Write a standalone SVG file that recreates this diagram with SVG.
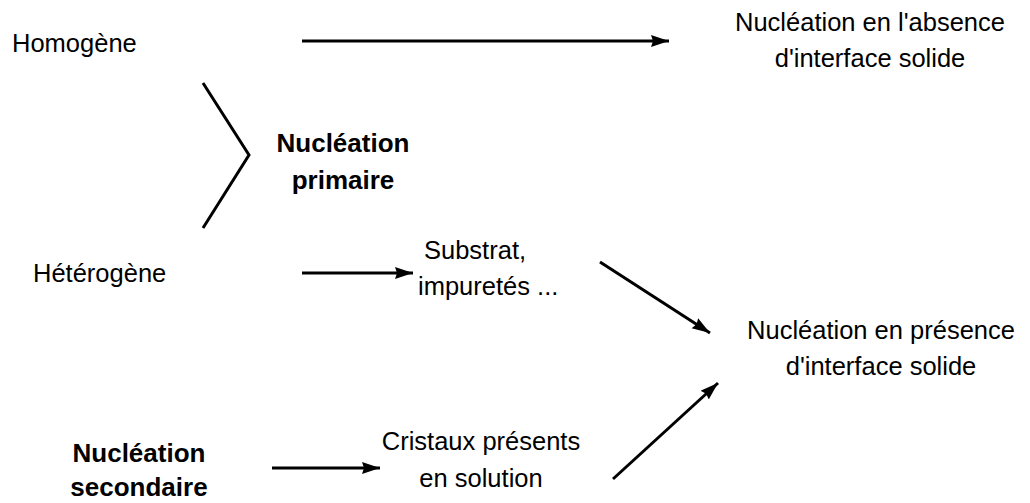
<svg xmlns="http://www.w3.org/2000/svg" width="1030" height="503" viewBox="0 0 1030 503">
<defs>
<style>
text{font-family:"Liberation Sans",Arial,sans-serif;font-size:25.5px;fill:#000}
.b{font-weight:bold;font-size:26px}
.m{text-anchor:middle}
.c{stroke:#000;stroke-width:3;fill:none}
</style>
<marker id="ah" markerUnits="userSpaceOnUse" markerWidth="20" markerHeight="14" refX="18" refY="6" orient="auto" viewBox="0 0 20 14">
<path d="M0,0 L18,6 L0,12 L2,6 z" fill="#000"/>
</marker>
</defs>
<rect width="1030" height="503" fill="#fff"/>
<g id="homogene"><text x="12" y="52">Homogène</text></g>
<g id="absence"><text class="m" x="870" y="31">Nucléation en l'absence</text><text class="m" x="870" y="67">d'interface solide</text></g>
<g id="primaire"><text class="b m" x="343" y="152">Nucléation</text><text class="b m" x="343" y="189">primaire</text></g>
<g id="heterogene"><text x="33" y="282">Hétérogène</text></g>
<g id="substrat"><text x="424" y="259">Substrat,</text><text x="418" y="295">impuretés ...</text></g>
<g id="presence"><text class="m" x="881" y="339">Nucléation en présence</text><text class="m" x="881" y="375">d'interface solide</text></g>
<g id="secondaire"><text class="b m" x="139" y="462">Nucléation</text><text class="b m" x="139" y="496">secondaire</text></g>
<g id="cristaux"><text class="m" x="481" y="450">Cristaux présents</text><text class="m" x="481" y="487">en solution</text></g>
<g id="connectors">
<polyline class="c" points="203,83 249,155 203,228"/>
<line class="c" x1="302" y1="41" x2="669" y2="41" marker-end="url(#ah)"/>
<line class="c" x1="302" y1="273" x2="413" y2="273" marker-end="url(#ah)"/>
<line class="c" x1="272" y1="468" x2="380" y2="468" marker-end="url(#ah)"/>
<line class="c" x1="600" y1="262" x2="710" y2="333" marker-end="url(#ah)"/>
<line class="c" x1="613" y1="479" x2="718" y2="383" marker-end="url(#ah)"/>
</g>
</svg>
